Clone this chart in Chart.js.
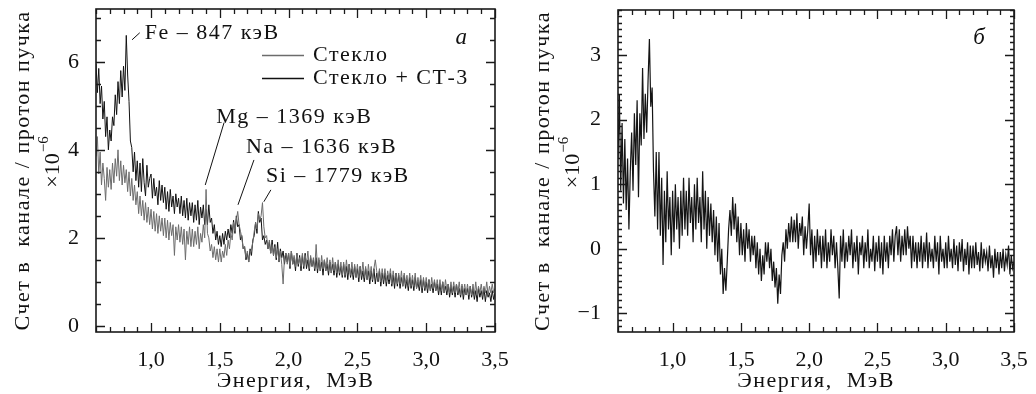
<!DOCTYPE html>
<html>
<head>
<meta charset="utf-8">
<script src="https://cdn.jsdelivr.net/npm/chart.js@4"></script>
<style>
html, body { margin: 0; padding: 0; background: #fff; }
#wrap { position: relative; width: 1036px; height: 394px; }
#chartA, #chartB { position: absolute; top: 0; }
#chartA { left: 0; }
#chartB { left: 518px; }
</style>
</head>
<body>
<div id="wrap">
  <canvas id="chartA" width="518" height="394"></canvas>
  <canvas id="chartB" width="518" height="394"></canvas>
</div>
<script>
// energy of each channel, MeV
const energy = [
  0.60,0.61,0.62,0.63,0.64,0.65,0.66,0.67,0.68,0.69,
  0.70,0.71,0.72,0.73,0.74,0.75,0.76,0.77,0.78,0.79,
  0.80,0.81,0.82,0.83,0.84,0.85,0.86,0.87,0.88,0.89,
  0.90,0.91,0.92,0.93,0.94,0.95,0.96,0.97,0.98,0.99,
  1.00,1.01,1.02,1.03,1.04,1.05,1.06,1.07,1.08,1.09,
  1.10,1.11,1.12,1.13,1.14,1.15,1.16,1.17,1.18,1.19,
  1.20,1.21,1.22,1.23,1.24,1.25,1.26,1.27,1.28,1.29,
  1.30,1.31,1.32,1.33,1.34,1.35,1.36,1.37,1.38,1.39,
  1.40,1.41,1.42,1.43,1.44,1.45,1.46,1.47,1.48,1.49,
  1.50,1.51,1.52,1.53,1.54,1.55,1.56,1.57,1.58,1.59,
  1.60,1.61,1.62,1.63,1.64,1.65,1.66,1.67,1.68,1.69,
  1.70,1.71,1.72,1.73,1.74,1.75,1.76,1.77,1.78,1.79,
  1.80,1.81,1.82,1.83,1.84,1.85,1.86,1.87,1.88,1.89,
  1.90,1.91,1.92,1.93,1.94,1.95,1.96,1.97,1.98,1.99,
  2.00,2.01,2.02,2.03,2.04,2.05,2.06,2.07,2.08,2.09,
  2.10,2.11,2.12,2.13,2.14,2.15,2.16,2.17,2.18,2.19,
  2.20,2.21,2.22,2.23,2.24,2.25,2.26,2.27,2.28,2.29,
  2.30,2.31,2.32,2.33,2.34,2.35,2.36,2.37,2.38,2.39,
  2.40,2.41,2.42,2.43,2.44,2.45,2.46,2.47,2.48,2.49,
  2.50,2.51,2.52,2.53,2.54,2.55,2.56,2.57,2.58,2.59,
  2.60,2.61,2.62,2.63,2.64,2.65,2.66,2.67,2.68,2.69,
  2.70,2.71,2.72,2.73,2.74,2.75,2.76,2.77,2.78,2.79,
  2.80,2.81,2.82,2.83,2.84,2.85,2.86,2.87,2.88,2.89,
  2.90,2.91,2.92,2.93,2.94,2.95,2.96,2.97,2.98,2.99,
  3.00,3.01,3.02,3.03,3.04,3.05,3.06,3.07,3.08,3.09,
  3.10,3.11,3.12,3.13,3.14,3.15,3.16,3.17,3.18,3.19,
  3.20,3.21,3.22,3.23,3.24,3.25,3.26,3.27,3.28,3.29,
  3.30,3.31,3.32,3.33,3.34,3.35,3.36,3.37,3.38,3.39,
  3.40,3.41,3.42,3.43,3.44,3.45,3.46,3.47,3.48,3.49,
  3.50
];

// panel a: glass only (grey)
const glass = [
  3.85,4.30,3.45,3.95,3.20,3.70,3.35,2.85,3.60,3.15,
  3.55,3.10,3.70,3.25,3.80,3.40,4.00,3.30,3.75,3.20,
  3.65,3.25,3.55,3.05,3.50,2.95,3.35,2.85,3.20,2.75,
  3.05,2.55,2.95,2.50,2.85,2.40,2.80,2.35,2.70,2.30,
  2.65,2.20,2.60,2.15,2.55,2.10,2.50,2.15,2.45,2.05,
  2.45,2.00,2.40,1.95,2.35,2.05,2.30,1.60,2.25,1.95,
  2.30,1.90,2.25,1.85,2.20,1.50,2.15,1.85,2.25,1.80,
  2.20,1.80,2.15,1.85,2.25,1.75,2.10,1.90,2.30,2.00,
  3.10,2.10,2.00,1.70,1.85,1.55,1.80,1.50,1.75,1.45,
  1.75,1.45,1.70,1.55,1.85,1.60,1.95,1.75,2.10,1.95,
  2.35,2.15,2.40,2.60,2.30,2.15,2.00,1.75,1.80,1.55,
  1.70,1.45,1.65,1.75,1.90,2.15,2.35,2.20,2.55,2.40,
  2.50,2.80,2.25,2.00,2.05,1.75,1.95,1.65,1.85,1.60,
  1.80,1.55,1.75,1.45,1.70,1.40,0.95,1.55,1.65,1.40,
  1.65,1.35,1.70,1.40,1.60,1.35,1.65,1.40,1.55,1.35,
  1.65,1.35,1.60,1.40,1.70,1.30,1.60,1.35,1.55,1.30,
  1.85,1.30,1.55,1.25,1.60,1.30,1.50,1.25,1.55,1.25,
  1.50,1.20,1.55,1.25,1.45,1.20,1.50,1.20,1.45,1.15,
  1.45,1.15,1.50,1.20,1.40,1.15,1.45,1.15,1.40,1.10,
  1.40,1.10,1.35,1.15,1.45,1.10,1.35,1.05,1.40,1.10,
  1.35,1.05,1.30,1.50,1.25,1.05,1.30,1.00,1.30,1.05,
  1.30,1.00,1.25,1.05,1.30,0.95,1.25,1.00,1.20,0.95,
  1.20,0.95,1.25,0.90,1.20,0.95,1.15,0.90,1.20,0.90,
  1.15,0.90,1.20,0.85,1.10,0.90,1.15,0.85,1.10,0.85,
  1.10,0.85,1.05,0.80,1.10,0.85,1.05,0.80,1.05,0.80,
  1.05,0.80,1.00,0.75,1.05,0.80,0.95,0.75,1.00,0.75,
  1.00,0.75,0.95,0.75,1.00,0.70,0.95,0.75,0.95,0.70,
  0.95,0.70,0.90,0.70,0.95,0.70,1.00,0.70,0.90,0.75,
  0.95,0.70,0.90,0.75,1.00,0.70,0.90,0.75,0.95,0.75,
  0.85
];

// panel a: glass + CT-3 (black)
const glassCT3 = [
  5.95,5.30,5.85,5.05,5.45,4.70,5.10,4.30,4.75,4.00,
  4.45,4.20,4.75,4.55,5.25,4.80,5.55,5.05,5.80,5.20,
  5.90,5.35,6.60,5.70,5.10,4.20,4.05,3.50,3.95,3.30,
  3.75,3.15,3.70,3.05,3.80,3.25,2.95,3.65,3.15,3.35,
  3.45,2.90,3.35,2.95,3.15,2.75,3.30,2.85,3.20,2.80,
  3.15,2.65,3.05,2.60,3.10,2.70,2.95,2.55,3.00,2.70,
  2.90,2.55,2.95,2.50,2.85,2.45,2.90,2.40,2.80,2.50,
  2.80,2.35,2.75,2.40,2.85,2.30,2.70,2.45,2.75,2.30,
  2.65,2.30,2.75,2.35,2.45,2.10,2.30,1.95,2.15,1.85,
  2.05,1.80,2.10,1.85,2.15,1.95,2.20,2.00,2.30,2.10,
  2.40,2.10,2.50,2.25,2.30,1.95,2.05,1.75,1.80,1.50,
  1.65,1.45,1.75,1.60,1.95,2.05,2.35,2.10,2.60,2.35,
  2.45,1.95,2.05,1.85,1.95,1.75,1.90,1.65,1.95,1.60,
  1.85,1.50,1.90,1.45,1.75,1.55,1.70,1.40,1.65,1.45,
  1.65,1.30,1.70,1.40,1.55,1.25,1.65,1.35,1.60,1.25,
  1.60,1.30,1.65,1.30,1.50,1.25,1.55,1.35,1.50,1.25,
  1.55,1.20,1.50,1.25,1.45,1.15,1.50,1.25,1.40,1.15,
  1.45,1.20,1.40,1.15,1.45,1.10,1.40,1.15,1.35,1.10,
  1.40,1.10,1.35,1.05,1.40,1.10,1.30,1.05,1.35,1.10,
  1.30,1.00,1.35,1.05,1.25,1.00,1.30,1.05,1.25,0.95,
  1.25,1.00,1.30,0.95,1.20,1.00,1.25,0.90,1.20,0.95,
  1.20,0.90,1.15,0.95,1.20,0.90,1.15,0.85,1.20,0.90,
  1.15,0.85,1.10,0.90,1.15,0.85,1.05,0.80,1.10,0.85,
  1.05,0.80,1.10,0.85,1.00,0.80,1.05,0.75,1.05,0.80,
  1.00,0.75,1.05,0.80,0.95,0.75,1.00,0.80,0.95,0.70,
  0.95,0.70,1.00,0.75,0.90,0.70,0.95,0.65,0.90,0.70,
  0.90,0.65,0.95,0.70,0.85,0.65,0.90,0.60,0.85,0.70,
  0.85,0.60,0.90,0.65,0.85,0.60,0.80,0.55,0.85,0.65,
  0.80,0.60,0.85,0.55,0.80,0.65,0.75,0.55,0.80,0.60,
  0.75
];

// panel б: difference spectrum
const difference = [
  1.40,2.40,0.90,1.95,0.70,1.70,0.60,1.40,0.30,1.20,
  1.80,0.90,2.10,1.30,2.30,0.80,2.10,1.60,2.80,1.70,
  2.40,1.80,2.60,3.25,2.20,2.50,1.20,0.50,1.50,0.30,
  1.50,0.20,1.10,-0.25,0.90,0.10,1.20,0.30,0.80,-0.10,
  0.90,0.10,1.00,0.30,0.80,0.00,0.90,0.20,1.10,0.30,
  0.90,0.20,1.10,0.40,0.80,0.10,1.00,0.30,1.10,0.40,
  0.80,0.10,1.20,0.30,0.90,0.00,0.80,0.20,0.70,0.10,
  0.60,-0.10,0.50,-0.20,0.40,-0.40,0.00,-0.70,-0.30,-0.65,
  -0.20,0.30,0.60,0.20,0.80,0.30,0.70,0.10,0.50,-0.10,
  0.40,-0.10,0.30,-0.20,0.40,0.00,0.30,-0.20,0.20,-0.10,
  0.20,-0.30,0.10,-0.40,0.00,-0.50,-0.10,-0.40,0.10,-0.20,
  0.10,-0.30,0.00,-0.50,-0.20,-0.60,-0.30,-0.85,-0.40,-0.70,
  -0.10,0.10,-0.20,0.30,0.00,0.40,0.10,0.50,0.10,0.45,
  0.10,0.55,0.00,0.40,0.20,0.50,-0.10,0.35,0.00,0.30,
  0.70,-0.10,0.30,-0.30,0.20,-0.20,0.30,-0.10,0.20,-0.30,
  0.20,-0.20,0.30,-0.30,0.10,-0.20,0.30,-0.10,0.20,-0.30,
  0.10,-0.30,-0.77,0.20,-0.20,0.30,-0.30,0.10,-0.20,0.20,
  -0.10,0.30,-0.30,0.10,-0.20,0.20,-0.40,0.10,-0.10,0.20,
  -0.30,0.10,-0.20,0.30,-0.30,0.00,-0.20,0.20,-0.35,0.10,
  -0.20,0.20,-0.30,0.10,-0.40,0.20,-0.20,0.10,-0.30,0.20,
  -0.10,0.30,-0.20,0.20,0.35,-0.10,0.30,-0.20,0.20,-0.10,
  0.30,-0.10,0.35,0.00,0.20,-0.30,0.20,-0.20,0.10,-0.30,
  0.10,-0.20,0.20,-0.30,0.10,-0.20,0.25,-0.30,0.10,-0.20,
  0.00,-0.30,0.20,-0.20,0.10,-0.40,0.20,-0.20,0.00,-0.30,
  0.10,-0.30,0.20,-0.20,0.00,-0.30,0.15,-0.25,0.05,-0.35,
  0.10,-0.20,0.15,-0.35,0.00,-0.25,0.10,-0.40,0.05,-0.30,
  0.05,-0.30,0.10,-0.25,-0.05,-0.35,0.10,-0.30,0.00,-0.20,
  -0.05,-0.35,0.05,-0.30,-0.10,-0.45,0.00,-0.30,-0.05,-0.40,
  -0.05,-0.30,0.00,-0.35,-0.10,-0.25,0.05,-0.40,-0.10,-0.30,
  -0.20
];

const xTicks = [1.0, 1.5, 2.0, 2.5, 3.0, 3.5];
const yTicksA = [0, 2, 4, 6];
const yTicksB = [-1, 0, 1, 2, 3];

// peak labels for panel a (text anchor + leader line, in data units)
const peakNotes = [
  { text: 'Fe – 847 кэВ',  at: [0.954, 6.66], from: [0.862, 6.50], to: [0.918, 6.66] },
  { text: 'Mg – 1369 кэВ', at: [1.474, 4.75], from: [1.531, 4.62], to: [1.394, 3.20] },
  { text: 'Na – 1636 кэВ', at: [1.690, 4.05], from: [1.748, 3.77], to: [1.632, 2.75] },
  { text: 'Si – 1779 кэВ', at: [1.835, 3.39], from: [1.871, 3.09], to: [1.820, 2.82] }
];

const FONT = '"Liberation Serif", serif';
const INK = '#111';
const GREY = '#6c6c6c';

const fmtX = v => v.toFixed(1).replace('.', ',');
const fmtY = v => (v < 0 ? '\u2212' : '') + Math.abs(v);

function points(ys) {
  return energy.map((e, i) => ({ x: e, y: ys[i] }));
}

function rotatedTitle(ctx, cx, cy, draw) {
  ctx.save();
  ctx.translate(cx, cy);
  ctx.rotate(-Math.PI / 2);
  draw();
  ctx.restore();
}

// frame, inward ticks, titles and labels
const decor = {
  id: 'decor',
  afterDatasetsDraw(chart, args, o) {
    const { ctx, chartArea: a, scales: { x, y } } = chart;
    ctx.save();
    ctx.strokeStyle = '#1a1a1a';
    ctx.lineWidth = 1.3;
    ctx.beginPath();
    for (let k = 6; k <= 35; k++) {
      const v = k / 10;
      const px = Math.round(x.getPixelForValue(v)) + 0.5;
      const len = xTicks.some(t => Math.abs(t - v) < 1e-6) ? 9 : 5;
      ctx.moveTo(px, a.bottom); ctx.lineTo(px, a.bottom - len);
      ctx.moveTo(px, a.top); ctx.lineTo(px, a.top + len);
    }
    for (let k = Math.ceil(y.min / o.yMinor); k * o.yMinor <= y.max; k++) {
      const v = k * o.yMinor;
      const py = Math.round(y.getPixelForValue(v)) + 0.5;
      const len = o.yMajor.some(t => Math.abs(t - v) < 1e-6) ? 9 : o.minorLen;
      ctx.moveTo(a.left, py); ctx.lineTo(a.left + len, py);
      ctx.moveTo(a.right, py); ctx.lineTo(a.right - len, py);
    }
    ctx.stroke();
    ctx.lineWidth = 1.6;
    ctx.strokeRect(a.left, a.top, a.right - a.left, a.bottom - a.top);

    ctx.fillStyle = INK;
    ctx.letterSpacing = '1.5px';
    ctx.textBaseline = 'middle';

    // x title
    ctx.font = '22px ' + FONT;
    ctx.textAlign = 'center';
    ctx.fillText('Энергия,  МэВ', (a.left + a.right) / 2, 381);

    // y title
    const cy = (a.top + a.bottom) / 2;
    rotatedTitle(ctx, o.titleX[0], cy, () => {
      ctx.font = '22px ' + FONT;
      ctx.textAlign = 'center';
      ctx.fillText('Счет в  канале / протон пучка', 0, 0);
    });
    rotatedTitle(ctx, o.titleX[1], cy - 8, () => {
      ctx.letterSpacing = '0px';
      ctx.font = '22px ' + FONT;
      const main = '×10';
      const wMain = ctx.measureText(main).width;
      ctx.font = '15px ' + FONT;
      const sup = '\u22126';
      const wSup = ctx.measureText(sup).width;
      const start = -(wMain + wSup) / 2;
      ctx.textAlign = 'left';
      ctx.font = '22px ' + FONT;
      ctx.fillText(main, start, 0);
      ctx.font = '15px ' + FONT;
      ctx.fillText(sup, start + wMain + 1, -9);
    });

    // panel letter
    ctx.font = 'italic 23px ' + FONT;
    ctx.textAlign = 'center';
    ctx.fillText(o.letter, x.getPixelForValue(o.letterAt[0]), y.getPixelForValue(o.letterAt[1]));

    if (o.notes) {
      ctx.font = '22px ' + FONT;
      ctx.textAlign = 'left';
      ctx.lineWidth = 1;
      ctx.strokeStyle = INK;
      o.notes.forEach(n => {
        ctx.fillText(n.text, x.getPixelForValue(n.at[0]), y.getPixelForValue(n.at[1]));
        ctx.beginPath();
        ctx.moveTo(x.getPixelForValue(n.from[0]), y.getPixelForValue(n.from[1]));
        ctx.lineTo(x.getPixelForValue(n.to[0]), y.getPixelForValue(n.to[1]));
        ctx.stroke();
      });
    }

    if (o.legend) {
      const lx = 262, rows = [55, 78];
      chart.data.datasets.forEach((ds, i) => {
        ctx.strokeStyle = ds.borderColor;
        ctx.lineWidth = 1.6;
        ctx.beginPath();
        ctx.moveTo(lx, rows[i] + 0.5);
        ctx.lineTo(lx + 42, rows[i] + 0.5);
        ctx.stroke();
        ctx.textAlign = 'left';
        ctx.fillText(ds.label, lx + 51, rows[i]);
      });
    }
    ctx.restore();
  }
};

// fixed axis boxes, no extra padding requested by the labels
function fixBox(s, w, h) {
  if (w) s.width = w;
  if (h) s.height = h;
  s.paddingTop = 0; s.paddingBottom = 0;
  s.paddingLeft = 0; s.paddingRight = 0;
}

function scaleX() {
  return {
    type: 'linear', min: 0.6, max: 3.5,
    afterBuildTicks: s => { s.ticks = xTicks.map(v => ({ value: v })); },
    afterFit: s => fixBox(s, 0, 62),
    grid: { display: false },
    border: { display: false },
    ticks: {
      color: INK, padding: 7, maxRotation: 0, autoSkip: false,
      font: { family: FONT, size: 22 },
      callback: v => fmtX(v)
    }
  };
}

function scaleY(min, max, ticks, width) {
  return {
    type: 'linear', min: min, max: max,
    afterBuildTicks: s => { s.ticks = ticks.map(v => ({ value: v })); },
    afterFit: s => fixBox(s, width, 0),
    grid: { display: false },
    border: { display: false },
    ticks: {
      color: INK, padding: 9,
      font: { family: FONT, size: 22 },
      callback: v => fmtY(v)
    }
  };
}

const lineStyle = { borderWidth: 1, pointRadius: 0, tension: 0, fill: false };

new Chart(document.getElementById('chartA'), {
  type: 'line',
  data: {
    datasets: [
      Object.assign({ label: 'Стекло', data: points(glass), borderColor: GREY }, lineStyle),
      Object.assign({ label: 'Стекло + СТ-3', data: points(glassCT3), borderColor: INK }, lineStyle)
    ]
  },
  options: {
    responsive: false, animation: false, events: [],
    layout: { padding: { top: 9, right: 23, left: 0, bottom: 0 } },
    plugins: {
      legend: { display: false }, tooltip: { enabled: false },
      decor: {
        yMinor: 0.5, yMajor: yTicksA, minorLen: 5,
        titleX: [23, 53], letter: 'a', letterAt: [3.26, 6.55],
        notes: peakNotes, legend: true
      }
    },
    scales: { x: scaleX(), y: scaleY(-0.14, 7.2, yTicksA, 96) }
  },
  plugins: [decor]
});

new Chart(document.getElementById('chartB'), {
  type: 'line',
  data: {
    datasets: [
      Object.assign({ label: 'Разность', data: points(difference), borderColor: '#141414' }, lineStyle, { borderWidth: 1.2 })
    ]
  },
  options: {
    responsive: false, animation: false, events: [],
    layout: { padding: { top: 10, right: 22, left: 0, bottom: 0 } },
    plugins: {
      legend: { display: false }, tooltip: { enabled: false },
      decor: {
        yMinor: 0.1, yMajor: yTicksB, minorLen: 4,
        titleX: [25, 55], letter: 'б', letterAt: [3.25, 3.27]
      }
    },
    scales: { x: scaleX(), y: scaleY(-1.29, 3.7, yTicksB, 100) }
  },
  plugins: [decor]
});
</script>
</body>
</html>
